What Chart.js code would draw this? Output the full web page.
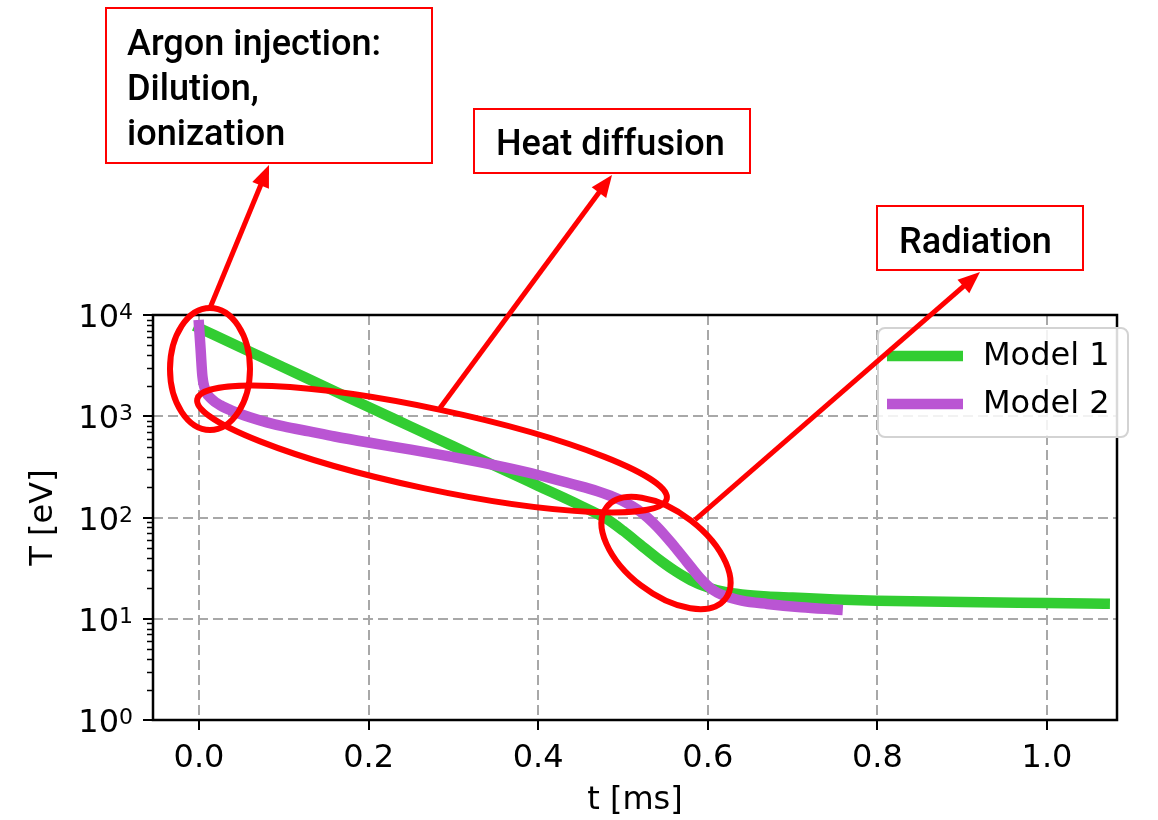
<!DOCTYPE html>
<html><head><meta charset="utf-8">
<script src="https://cdn.jsdelivr.net/npm/chart.js@4/dist/chart.umd.min.js"></script>
<style>html,body{margin:0;padding:0;background:#fff;}canvas{display:block;}</style>
</head><body>
<canvas id="c" width="1158" height="820"></canvas>
<script>
// ---- data ----
const model1Time = [0, 0.05, 0.1, 0.15, 0.2, 0.25, 0.3, 0.35, 0.4, 0.45, 0.48, 0.5, 0.52, 0.54, 0.56, 0.58, 0.6, 0.62, 0.64, 0.67, 0.7, 0.75, 0.8, 0.9, 1.0, 1.068];
const model1Temp = [7447, 4753, 3027, 1936, 1233, 789, 504, 321, 205, 131, 97.7, 74.1, 54.3, 39.8, 30.2, 24.0, 20.4, 18.4, 17.4, 16.6, 16.2, 15.5, 15.1, 14.6, 14.3, 14.1];
const model2Time = [0, 0.002, 0.004, 0.008, 0.015, 0.025, 0.04, 0.06, 0.08, 0.1, 0.13, 0.16, 0.2, 0.25, 0.3, 0.35, 0.4, 0.44, 0.47, 0.485, 0.5, 0.52, 0.54, 0.56, 0.575, 0.59, 0.605, 0.62, 0.64, 0.67, 0.71, 0.753];
const model2Temp = [7943, 4467, 2512, 1778, 1479, 1288, 1122, 977, 871, 794, 708, 631, 550, 468, 394, 327, 263, 214, 182, 164, 145, 115, 81.3, 52.5, 36.7, 25.7, 19.5, 16.8, 15.1, 14.0, 13.0, 12.3];
const seriesNames = ['Model 1', 'Model 2'];
const xTickValues = [0, 0.2, 0.4, 0.6, 0.8, 1.0];
const xTickLabels = ['0.0', '0.2', '0.4', '0.6', '0.8', '1.0'];
const yTickValues = [1, 10, 100, 1000, 10000];
const yTickExponents = ['0', '1', '2', '3', '4'];
const xTitle = 't [ms]';
const yTitle = 'T [eV]';
const annotationTexts = [['Argon injection:', 'Dilution,', 'ionization'], ['Heat diffusion'], ['Radiation']];
// annotation anchors in data coordinates (t [ms], T [eV])
const ellipseCenters = [[0.013, 2928], [0.2748, 474.8], [0.5507, 44.6]];
const arrowStarts = [[0.013, 11730], [0.2842, 1206], [0.5849, 94.5]];

// ---- styles / layout ----
const colors = ['#32cd32', '#ba55d3'];
const RED = '#ff0000';
const FONT = '"DejaVu Sans", sans-serif';
const ellipseShapes = [{rx: 40, ry: 61, rot: 0}, {rx: 240, ry: 40, rot: 12}, {rx: 75, ry: 41, rot: 37.6}];
const boxes = [
  {x: 106, y: 8, w: 326, h: 155, tx: 21, base: [47, 92, 137]},
  {x: 474, y: 109, w: 276, h: 64, tx: 22, base: [46]},
  {x: 877, y: 206, w: 206, h: 64, tx: 22, base: [47]}
];

Chart.defaults.color = '#000';

const decorPlugin = {
  id: 'decor',
  afterDraw(chart) {
    const ctx = chart.ctx, xs = chart.scales.x, ys = chart.scales.y, ca = chart.chartArea;
    ctx.save();
    // minor ticks on log axis
    ctx.strokeStyle = '#000'; ctx.lineWidth = 1.5;
    for (let n = 0; n < 4; n++) {
      for (let k = 2; k <= 9; k++) {
        const y = Math.round(ys.getPixelForValue(k * Math.pow(10, n))) + 0.5;
        ctx.beginPath(); ctx.moveTo(ca.left - 6, y); ctx.lineTo(ca.left, y); ctx.stroke();
      }
    }
    // y tick labels with superscripts
    ctx.fillStyle = '#000';
    const rightEdge = ca.left - 20;
    yTickValues.forEach((v, i) => {
      const y = ys.getPixelForValue(v);
      ctx.textAlign = 'right'; ctx.textBaseline = 'alphabetic';
      ctx.font = '22px ' + FONT;
      const ew = ctx.measureText(yTickExponents[i]).width;
      ctx.fillText(yTickExponents[i], rightEdge, y + 4);
      ctx.font = '32px ' + FONT;
      ctx.fillText('10', rightEdge - ew, y + 12);
    });
    // frame
    ctx.strokeStyle = '#000'; ctx.lineWidth = 2.5;
    ctx.strokeRect(ca.left, ca.top, ca.right - ca.left, ca.bottom - ca.top);
    // legend
    const lx = ca.right - 239, ly = ca.top + 13, lw = 250, lh = 109;
    ctx.beginPath();
    ctx.roundRect(lx, ly, lw, lh, 7);
    ctx.fillStyle = 'rgba(255,255,255,0.85)'; ctx.fill();
    ctx.strokeStyle = '#d3d3d3'; ctx.lineWidth = 2; ctx.stroke();
    seriesNames.forEach((name, i) => {
      const yy = ly + 28 + i * 48;
      ctx.strokeStyle = colors[i]; ctx.lineWidth = 10.5; ctx.lineCap = 'butt';
      ctx.beginPath(); ctx.moveTo(lx + 9, yy); ctx.lineTo(lx + 85, yy); ctx.stroke();
      ctx.fillStyle = '#000'; ctx.font = '32px ' + FONT;
      ctx.textAlign = 'left'; ctx.textBaseline = 'middle';
      ctx.fillText(name, lx + 105, yy + 1);
    });
    // annotations: ellipses
    ctx.strokeStyle = RED; ctx.lineWidth = 6;
    ellipseShapes.forEach((e, i) => {
      const cx = xs.getPixelForValue(ellipseCenters[i][0]);
      const cy = ys.getPixelForValue(ellipseCenters[i][1]);
      ctx.beginPath(); ctx.ellipse(cx, cy, e.rx, e.ry, e.rot * Math.PI / 180, 0, 2 * Math.PI); ctx.stroke();
    });
    // boxes
    ctx.font = '500 36px Roboto';
    const mw = ctx.measureText('Heat diffusion').width;
    const fs = 36 * 229 / mw;
    boxes.forEach((b, i) => {
      ctx.fillStyle = '#fff'; ctx.fillRect(b.x, b.y, b.w, b.h);
      ctx.strokeStyle = RED; ctx.lineWidth = 2; ctx.strokeRect(b.x, b.y, b.w, b.h);
      ctx.fillStyle = '#000'; ctx.font = '500 ' + fs.toFixed(1) + 'px Roboto';
      ctx.textAlign = 'left'; ctx.textBaseline = 'alphabetic';
      annotationTexts[i].forEach((t, j) => ctx.fillText(t, b.x + b.tx, b.y + b.base[j]));
    });
    // arrows
    boxes.forEach((b, i) => {
      const sx = xs.getPixelForValue(arrowStarts[i][0]);
      const sy = ys.getPixelForValue(arrowStarts[i][1]);
      const tx = b.x + b.w / 2, ty = b.y + b.h + 2;
      const ang = Math.atan2(ty - sy, tx - sx);
      const hl = 22, hw = 9;
      const bx = tx - hl * Math.cos(ang), by = ty - hl * Math.sin(ang);
      ctx.strokeStyle = RED; ctx.lineWidth = 5; ctx.lineCap = 'butt';
      ctx.beginPath(); ctx.moveTo(sx, sy); ctx.lineTo(bx + 2 * Math.cos(ang), by + 2 * Math.sin(ang)); ctx.stroke();
      ctx.fillStyle = RED; ctx.beginPath();
      ctx.moveTo(tx, ty);
      ctx.lineTo(bx + hw * Math.sin(ang), by - hw * Math.cos(ang));
      ctx.lineTo(bx - hw * Math.sin(ang), by + hw * Math.cos(ang));
      ctx.closePath(); ctx.fill();
    });
    ctx.restore();
  }
};

const gridCommon = {color: '#a8a8a8', lineWidth: 2, tickColor: '#000', tickWidth: 2, tickLength: 10, tickBorderDash: []};

new Chart(document.getElementById('c'), {
  type: 'line',
  data: {
    datasets: [
      {label: seriesNames[1], data: model2Time.map((t, i) => ({x: t, y: model2Temp[i]})), borderColor: colors[1], borderWidth: 10.5, order: 0},
      {label: seriesNames[0], data: model1Time.map((t, i) => ({x: t, y: model1Temp[i]})), borderColor: colors[0], borderWidth: 10.5, order: 1}
    ]
  },
  options: {
    responsive: false, animation: false, devicePixelRatio: 1,
    parsing: false,
    elements: {point: {radius: 0}, line: {cubicInterpolationMode: 'monotone', borderCapStyle: 'square', fill: false}},
    layout: {padding: {top: 315, right: 41, left: 0, bottom: 0}},
    plugins: {legend: {display: false}, tooltip: {enabled: false}},
    scales: {
      x: {
        type: 'linear', min: -0.0542, max: 1.0825,
        afterBuildTicks: s => { s.ticks = xTickValues.map(v => ({value: v})); },
        afterFit: s => { s.height = 100; },
        ticks: {autoSkip: false, maxRotation: 0, padding: 9, font: {family: FONT, size: 32}, color: '#000',
                callback: (v, i) => xTickLabels[i]},
        grid: gridCommon,
        border: {display: false, dash: [10, 5]},
        title: {display: true, text: xTitle, font: {family: FONT, size: 32}, color: '#000', padding: {top: 0, bottom: 0}}
      },
      y: {
        type: 'logarithmic', min: 1, max: 10000,
        afterBuildTicks: s => { s.ticks = yTickValues.map(v => ({value: v, major: true})); },
        afterFit: s => { s.width = 153; },
        ticks: {display: false},
        grid: gridCommon,
        border: {display: false, dash: [10, 5]},
        title: {display: true, text: yTitle, font: {family: FONT, size: 32}, color: '#000', padding: {top: 24, bottom: 0}}
      }
    }
  },
  plugins: [decorPlugin]
});
</script>
</body></html>
